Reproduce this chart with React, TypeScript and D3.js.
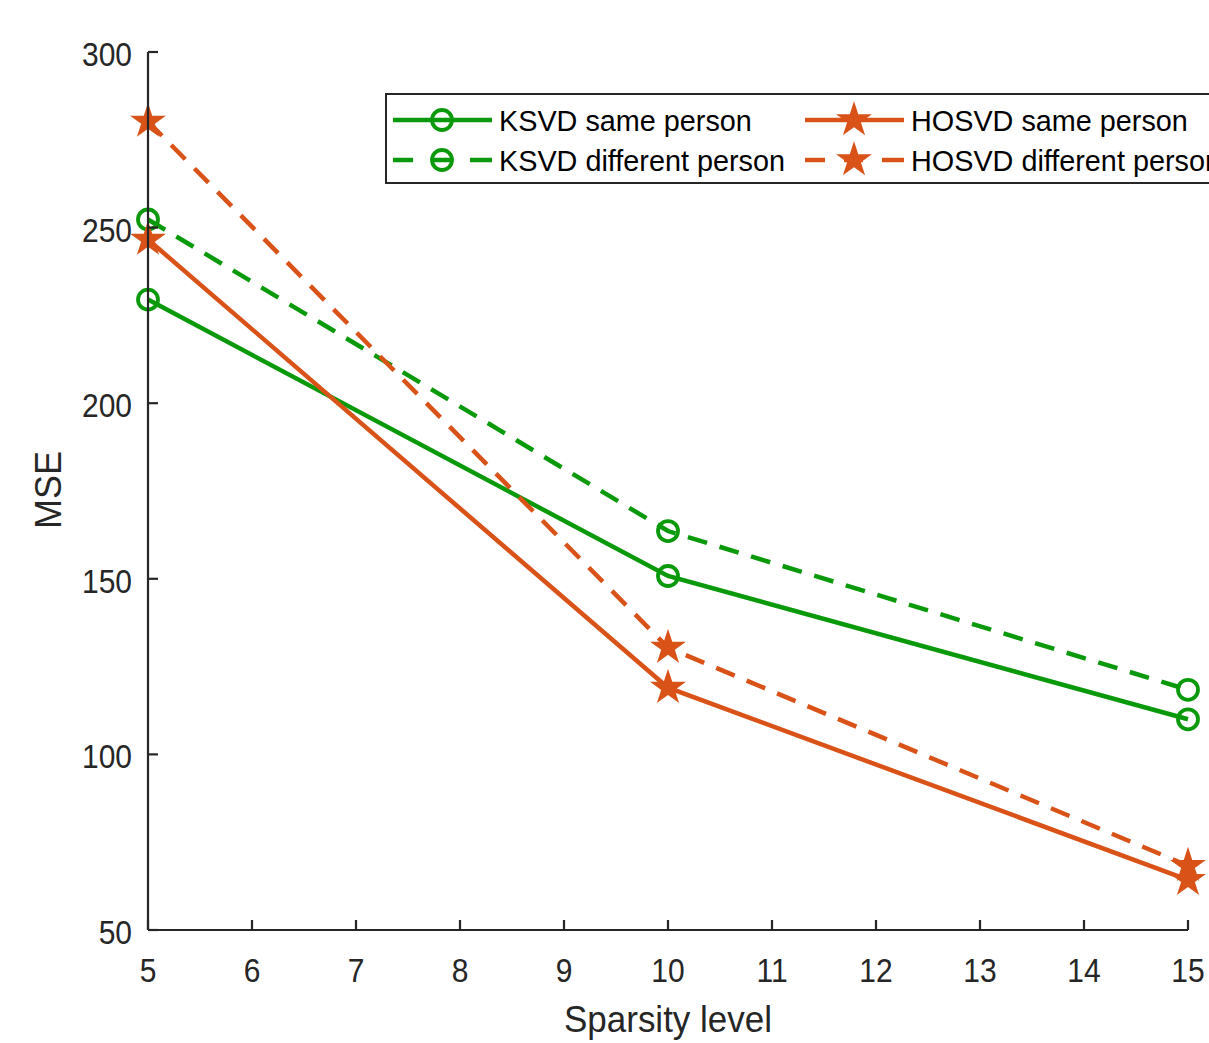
import { line, scaleLinear, symbol, symbolStar } from "d3";

const sparsity = [5, 10, 15];
const ksvdSame = [229.5, 150.8, 110];
const ksvdDiff = [252.3, 163.6, 118.4];
const hosvdSame = [246.6, 119, 64.3];
const hosvdDiff = [280.2, 130.4, 68.3];
const xTicks = [5, 6, 7, 8, 9, 10, 11, 12, 13, 14, 15];
const yTicks = [50, 100, 150, 200, 250, 300];

const GREEN = "#0a990a";
const ORANGE = "#d95319";
const AXIS = "#262626";
const FONT = "'Liberation Sans', Arial, sans-serif";

const series = [
  { name: "KSVD same person", values: ksvdSame, color: GREEN, dashed: false, marker: "circle" },
  { name: "KSVD different person", values: ksvdDiff, color: GREEN, dashed: true, marker: "circle" },
  { name: "HOSVD same person", values: hosvdSame, color: ORANGE, dashed: false, marker: "star" },
  { name: "HOSVD different person", values: hosvdDiff, color: ORANGE, dashed: true, marker: "star" },
];

const starPath = symbol().type(symbolStar).size(400)()!;

const Marker = ({ kind, x, y, color }: { kind: string; x: number; y: number; color: string }) =>
  kind === "star" ? (
    <path d={starPath} transform={`translate(${x},${y})`} fill={color} />
  ) : (
    <circle cx={x} cy={y} r={10} fill="none" stroke={color} strokeWidth={3.8} />
  );

// MATLAB-ish text, slightly taller than wide
const Label = ({ x, y, size, anchor = "start", fill = AXIS, sy = 1.1, rotate = 0, children }: any) => (
  <text
    transform={`translate(${x},${y}) rotate(${rotate}) scale(1,${sy})`}
    textAnchor={anchor}
    fontFamily={FONT}
    fontSize={size}
    fill={fill}
  >
    {children}
  </text>
);

const App = () => {
  const width = 1209;
  const height = 1043;

  const xScale = scaleLinear().domain([5, 15]).range([148, 1188]);
  const yScale = scaleLinear().domain([50, 300]).range([930, 52]);

  const path = line<number>()
    .x((_, i) => xScale(sparsity[i]))
    .y((d) => yScale(d));

  // legend layout (2 columns, 2 rows)
  const legendRows = [120, 160];
  const legendCols = [393, 805];

  return (
    <svg width={width} height={height} style={{ position: "absolute", left: 0, top: 0, background: "#fff" }}>
      {/* data lines */}
      {series.map((s) => (
        <path
          key={s.name}
          d={path(s.values)!}
          fill="none"
          stroke={s.color}
          strokeWidth={4.5}
          strokeDasharray={s.dashed ? "20,13" : undefined}
        />
      ))}
      {series.map((s) =>
        s.values.map((v, i) => (
          <Marker key={`${s.name}-${i}`} kind={s.marker} x={xScale(sparsity[i])} y={yScale(v)} color={s.color} />
        ))
      )}

      {/* axes */}
      <g stroke={AXIS} strokeWidth={2.2} fill="none">
        <line x1={148} x2={1188} y1={930} y2={930} />
        <line x1={148} x2={148} y1={52} y2={930} />
        {xTicks.map((t) => (
          <line key={`xt${t}`} x1={xScale(t)} x2={xScale(t)} y1={930} y2={920} />
        ))}
        {yTicks.map((t) => (
          <line key={`yt${t}`} x1={148} x2={158} y1={yScale(t)} y2={yScale(t)} />
        ))}
      </g>
      {xTicks.map((t) => (
        <Label key={`xl${t}`} x={xScale(t)} y={982} size={30} anchor="middle">
          {t}
        </Label>
      ))}
      {yTicks.map((t) => (
        <Label key={`yl${t}`} x={132} y={yScale(t) + 14} size={30} anchor="end">
          {t}
        </Label>
      ))}
      <Label x={668} y={1032} size={35} anchor="middle" sy={1.08}>
        Sparsity level
      </Label>
      <Label x={61} y={490} size={36} anchor="middle" rotate={-90} sy={1}>
        MSE
      </Label>

      {/* legend */}
      <rect x={386} y={94} width={840} height={89} fill="#fff" stroke={AXIS} strokeWidth={2} />
      {series.map((s, i) => {
        const col = i < 2 ? 0 : 1;
        const row = i % 2;
        const x0 = legendCols[col];
        const y0 = legendRows[row];
        return (
          <g key={`lg-${s.name}`}>
            <line
              x1={x0}
              x2={x0 + 99}
              y1={y0}
              y2={y0}
              stroke={s.color}
              strokeWidth={4.5}
              strokeDasharray={s.dashed ? "20,19,19,19,22" : undefined}
            />
            <Marker kind={s.marker} x={x0 + 49} y={y0} color={s.color} />
            <Label x={x0 + 106} y={y0 + 11} size={28.8} fill="#000" sy={1.02}>
              {s.name}
            </Label>
          </g>
        );
      })}
    </svg>
  );
};

export default App;
